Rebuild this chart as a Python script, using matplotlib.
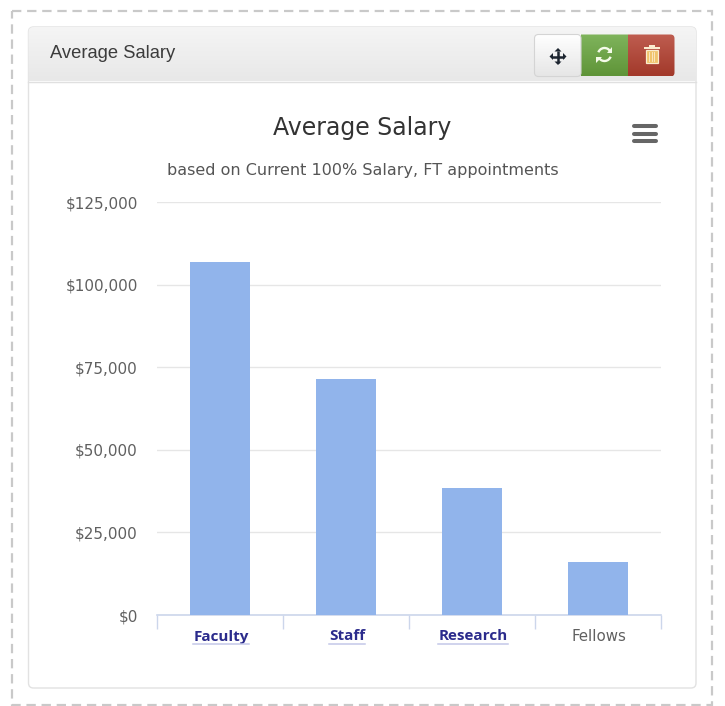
import numpy as np
import matplotlib
matplotlib.use("Agg")
import matplotlib.pyplot as plt
from matplotlib.patches import FancyBboxPatch, Rectangle, Arc, Polygon
from matplotlib.ticker import FuncFormatter, FixedLocator

categories = ["Faculty", "Staff", "Research", "Fellows"]
salaries = [106800, 71400, 38400, 15900]
linked = [True, True, True, False]
y_ticks = [0, 25000, 50000, 75000, 100000, 125000]
title = "Average Salary"
subtitle = "based on Current 100% Salary, FT appointments"
panel_title = "Average Salary"

W, H = 725, 706
plt.rcParams["font.family"] = ["DejaVu Sans"]
fig = plt.figure(figsize=(W / 100, H / 100), dpi=100, facecolor="white")

# page chrome, in pixel coordinates
bg = fig.add_axes([0, 0, 1, 1], zorder=0)
bg.set_xlim(0, W)
bg.set_ylim(H, 0)
bg.axis("off")

bg.add_patch(Rectangle((12, 11), 700, 694, fill=False, ec="#c9c9c9", lw=1.6,
                       ls=(0, (4.2, 2.6))))
bg.add_patch(FancyBboxPatch((28.5, 27), 667.5, 661, boxstyle="round,pad=0,rounding_size=5",
                            fc="white", ec="#e2e2e2", lw=1.0))


def gradient(box, top, bottom, clip=None, z=2):
    c0 = np.array(matplotlib.colors.to_rgb(top))
    c1 = np.array(matplotlib.colors.to_rgb(bottom))
    t = np.linspace(0, 1, 64)[:, None, None]
    img = c0[None, None, :] * (1 - t) + c1[None, None, :] * t
    x0, y0, w, h = box
    im = bg.imshow(img, extent=(x0, x0 + w, y0 + h, y0), aspect="auto", zorder=z,
                   interpolation="bilinear")
    if clip is not None:
        im.set_clip_path(clip)
    return im


head_clip = FancyBboxPatch((28.5, 27), 667.5, 60, boxstyle="round,pad=0,rounding_size=5",
                           fc="none", ec="none", transform=bg.transData)
bg.add_patch(head_clip)
gradient((28.5, 27, 667.5, 54.5), "#f5f5f5", "#e8e8e8", clip=head_clip)
bg.plot([28.5, 696], [81.5, 81.5], color="#e0e0e0", lw=1, zorder=3)
bg.set_xlim(0, W)
bg.set_ylim(H, 0)
bg.text(50.5, 54, panel_title, fontsize=13.2, family="Liberation Sans", color="#3c3c3c",
        va="center", ha="left", zorder=4)

# button group
btn = FancyBboxPatch((534.5, 34.5), 140, 42, boxstyle="round,pad=0,rounding_size=4",
                     fc="none", ec="none", transform=bg.transData)
bg.add_patch(btn)
gradient((534.5, 34.5, 46.5, 42), "#ffffff", "#e6e6e6", clip=btn, z=4)
gradient((581, 34.5, 47, 42), "#7fb45c", "#5f9438", clip=btn, z=4)
gradient((628, 34.5, 46.5, 42), "#bf5d50", "#a2392a", clip=btn, z=4)
bg.add_patch(FancyBboxPatch((534.5, 34.5), 46.5, 42, boxstyle="round,pad=0,rounding_size=4",
                            fc="none", ec="#d4d4d4", lw=0.8, zorder=5))
bg.set_xlim(0, W)
bg.set_ylim(H, 0)

# move icon
cx, cy = 558, 56.5
bg.plot([cx - 6, cx + 6], [cy, cy], color="#1d2530", lw=1.8, zorder=6, solid_capstyle="butt")
bg.plot([cx, cx], [cy - 6, cy + 6], color="#1d2530", lw=1.8, zorder=6, solid_capstyle="butt")
for pts in ([(cx - 8.5, cy), (cx - 5, cy - 3.5), (cx - 5, cy + 3.5)],
            [(cx + 8.5, cy), (cx + 5, cy - 3.5), (cx + 5, cy + 3.5)],
            [(cx, cy - 8.5), (cx - 3.5, cy - 5), (cx + 3.5, cy - 5)],
            [(cx, cy + 8.5), (cx - 3.5, cy + 5), (cx + 3.5, cy + 5)]):
    bg.add_patch(Polygon(pts, fc="#1d2530", ec="none", zorder=6))

# refresh icon
cx, cy = 604.5, 54.5
for a0, a1 in ((200, 330), (20, 150)):
    bg.add_patch(Arc((cx, cy), 13, 13, theta1=a0, theta2=a1, color="#f4fbe9", lw=1.7, zorder=6))
bg.add_patch(Polygon([(cx + 8, cy - 8), (cx + 8, cy - 2), (cx + 2.5, cy - 2)],
                     fc="#f4fbe9", ec="none", zorder=6))
bg.add_patch(Polygon([(cx - 8, cy + 8), (cx - 8, cy + 2), (cx - 2.5, cy + 2)],
                     fc="#f4fbe9", ec="none", zorder=6))

# trash icon
cx = 652
bg.add_patch(Rectangle((cx - 6, 50), 12, 12.5, fc="#f0c46c", ec="#fbeccf", lw=0.9, zorder=6))
bg.add_patch(Rectangle((cx - 8, 46.5), 16, 2, fc="#fbeccf", ec="none", zorder=6))
bg.add_patch(Rectangle((cx - 3, 44.5), 6, 2, fc="#fbeccf", ec="none", zorder=6))
for dx in (-2.5, 0, 2.5):
    bg.plot([cx + dx, cx + dx], [51.5, 61], color="#fbeccf", lw=0.6, zorder=7)

# menu icon
for y in (126, 133.5, 140.5):
    bg.plot([634.5, 656], [y, y], color="#666666", lw=2.9, solid_capstyle="round", zorder=6)
bg.set_xlim(0, W)
bg.set_ylim(H, 0)

# chart
left, right, top, bottom = 157.0, 661.0, 202.0, 615.0
ax = fig.add_axes([left / W, 1 - bottom / H, (right - left) / W, (bottom - top) / H], zorder=2)
ax.patch.set_alpha(0)
x = np.arange(len(categories))
ax.bar(x, salaries, width=0.47, color="#91b4eb", zorder=3)
ax.set_xlim(-0.5, len(categories) - 0.5)
ax.set_ylim(0, max(y_ticks))
ax.yaxis.set_major_locator(FixedLocator(y_ticks))
ax.yaxis.set_major_formatter(FuncFormatter(lambda v, _: f"${v:,.0f}"))
ax.grid(axis="y", color="#e6e6e6", lw=1, zorder=0)
ax.set_axisbelow(True)
for s in ("top", "left", "right"):
    ax.spines[s].set_visible(False)
ax.spines["bottom"].set_color("#ccd6eb")
ax.spines["bottom"].set_linewidth(1.2)
ax.tick_params(axis="y", length=0, pad=13.8, labelsize=11, labelcolor="#606060")
ax.xaxis.set_major_locator(FixedLocator(np.arange(-0.5, len(categories))))
ax.tick_params(axis="x", length=10, width=1, color="#ccd6eb", labelbottom=False)

fig.canvas.draw()
rend = fig.canvas.get_renderer()
for xi, name, is_link in zip(x, categories, linked):
    t = ax.annotate(name, (xi, 0), xycoords=("data", "axes fraction"), xytext=(0.7, -21.5 * 0.72),
                    textcoords="offset points", ha="center", va="center",
                    fontsize=11 if is_link else 10.8,
                    family="Open Sans" if is_link else "DejaVu Sans",
                    fontweight="bold" if is_link else "normal",
                    color="#2b2b8c" if is_link else "#606060", annotation_clip=False)
    if is_link:
        bb = t.get_window_extent(rend)
        y_line = 1 - 644.0 / H
        fig.add_artist(plt.Line2D([bb.x0 / W, bb.x1 / W], [y_line, y_line],
                                  color="#c3c8e8", lw=1.1, zorder=5))

# titles
bg.text(362.5, 128.5, title, fontsize=17, color="#333333", ha="center", va="center", zorder=6)
bg.text(362.5, 171, subtitle, fontsize=11.55, color="#555555", ha="center", va="center", zorder=6)

fig.savefig("out.png", dpi=100, facecolor="white")
